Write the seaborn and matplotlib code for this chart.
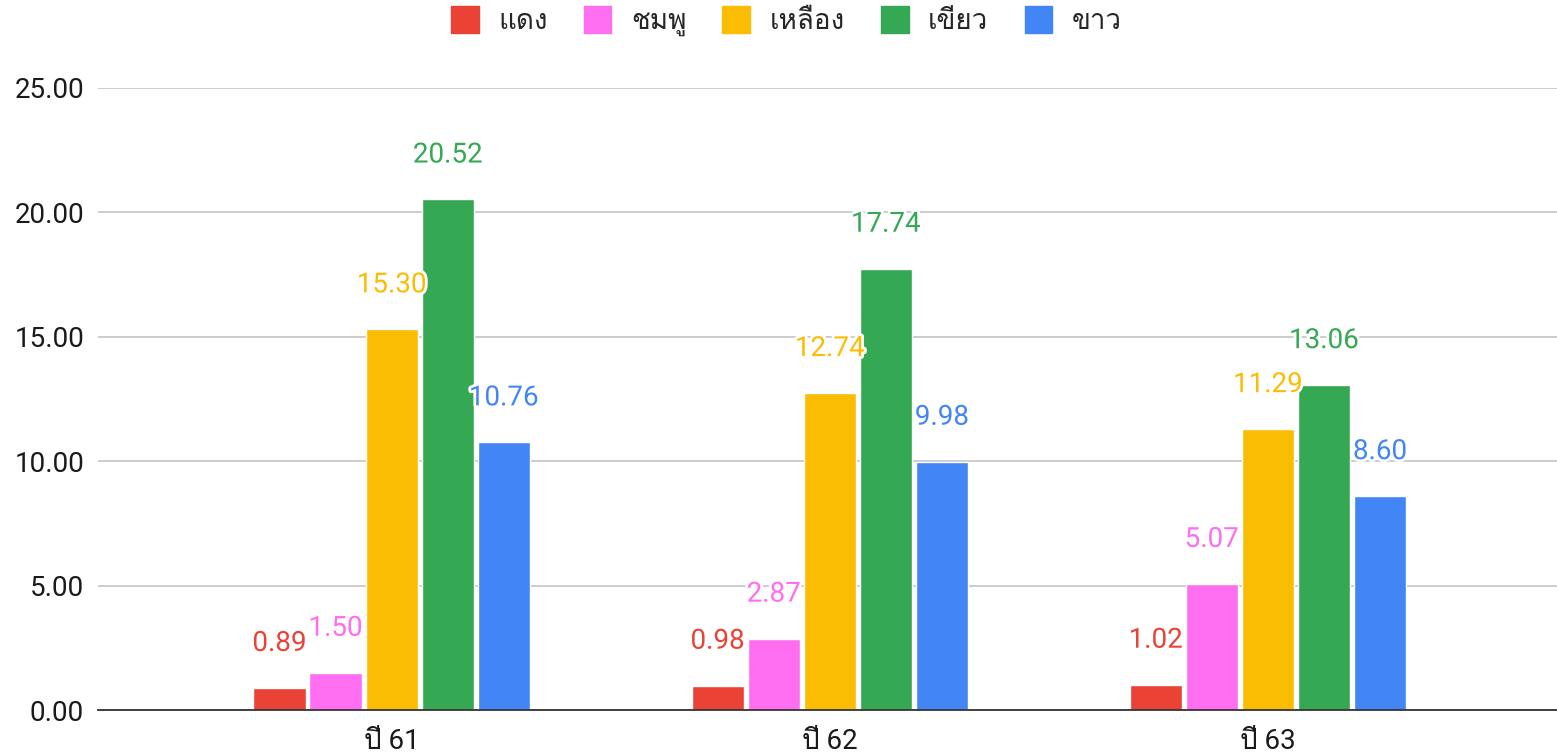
import matplotlib
matplotlib.use("Agg")
import matplotlib.pyplot as plt
import matplotlib.patheffects as pe
from matplotlib import font_manager
from matplotlib.ft2font import FT2Font
import seaborn as sns
import pandas as pd

# ---- data ----
years = ["ปี 61", "ปี 62", "ปี 63"]
series = ["แดง", "ชมพู", "เหลือง", "เขียว", "ขาว"]
red_vals = [0.89, 0.98, 1.02]
pink_vals = [1.50, 2.87, 5.07]
yellow_vals = [15.30, 12.74, 11.29]
green_vals = [20.52, 17.74, 13.06]
white_vals = [10.76, 9.98, 8.60]
yticks = [0, 5, 10, 15, 20, 25]
colors = ["#EA4335", "#FF6EF0", "#FBBC04", "#34A853", "#4285F4"]

# ---- find a font with Thai glyphs ----
thai_family = None
for fe in font_manager.fontManager.ttflist:
    try:
        f = FT2Font(fe.fname)
        if 0x0E01 in f.get_charmap() and 0x0E1B in f.get_charmap():
            thai_family = fe.name
            break
    except Exception:
        pass

sns.set_theme(style="white")
fams = ["Roboto"]
if thai_family:
    fams.append(thai_family)
fams.append("DejaVu Sans")
plt.rcParams["font.family"] = fams

rows = []
for s, vals in zip(series, [red_vals, pink_vals, yellow_vals, green_vals, white_vals]):
    for y, v in zip(years, vals):
        rows.append({"year": y, "series": s, "value": v})
df = pd.DataFrame(rows)

fig = plt.figure(figsize=(15.57, 7.56), dpi=100)
ax = fig.add_axes([0.063, 0.0608, 0.937, 0.8228])

sns.barplot(data=df, x="year", y="value", hue="series", hue_order=series,
            order=years, palette=colors, width=0.64, gap=0.07, ax=ax,
            legend=False, saturation=1, errorbar=None)

ax.set_ylim(0, 25)
ax.set_xlim(-0.67, 2.66)
ax.set_yticks(yticks)
ax.set_yticklabels([f"{t:.2f}" for t in yticks], fontsize=20, color="#1a1a1a")
ax.tick_params(axis="x", labelsize=20, labelcolor="#1a1a1a", length=0, pad=13)
ax.tick_params(axis="y", length=0, pad=10)
ax.set_xlabel("")
ax.set_ylabel("")
ax.yaxis.grid(True, color="#c8c8c8", linewidth=1.3)
ax.set_axisbelow(True)
for sp in ["top", "right", "left"]:
    ax.spines[sp].set_visible(False)
ax.spines["bottom"].set_color("#333333")
ax.spines["bottom"].set_linewidth(1.3)

for cont, col in zip(ax.containers, colors):
    for bar in cont:
        h = bar.get_height()
        ax.annotate(f"{h:.2f}", (bar.get_x() + bar.get_width() / 2, h),
                    xytext=(0, 32), textcoords="offset points",
                    ha="center", va="center", fontsize=20, color=col,
                    path_effects=[pe.withStroke(linewidth=4, foreground="white")],
                    zorder=5)

handles = [plt.Rectangle((0, 0), 1, 1, color=c) for c in colors]
fig.legend(handles, series, loc="upper center", bbox_to_anchor=(0.505, 1.025),
           ncol=5, frameon=False, fontsize=20, handlelength=1.0,
           handleheight=1.1, handletextpad=0.7, columnspacing=1.3)

fig.savefig("out.png", dpi=100)
